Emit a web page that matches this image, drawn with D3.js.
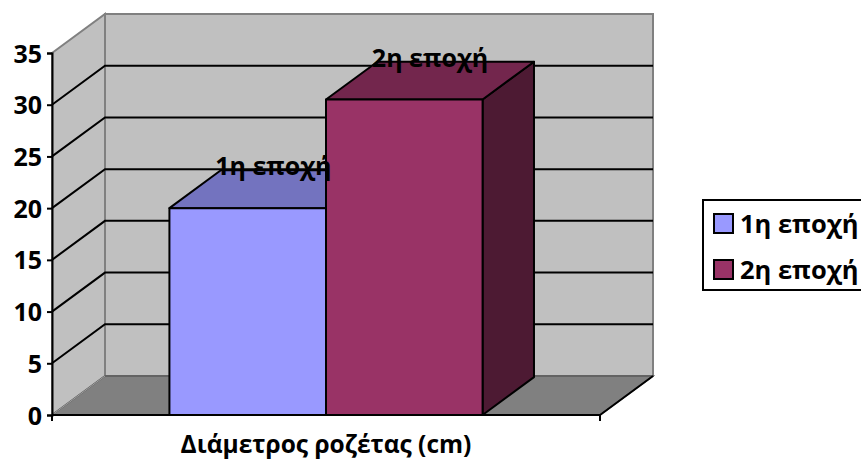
<!DOCTYPE html>
<html>
<head>
<meta charset="utf-8">
<script src="https://cdn.jsdelivr.net/npm/d3@7"></script>
<style>
  html, body { margin: 0; padding: 0; background: #ffffff; }
  svg { display: block; }
  text { font-family: "Open Sans", "Noto Sans", sans-serif; font-weight: 700; fill: #000; }
</style>
</head>
<body>
<svg id="chart" width="861" height="464"></svg>
<script>
// Rosette diameter by season
const categories = ["Διάμετρος ροζέτας (cm)"];
const seriesNames = ["1η εποχή", "2η εποχή"];
const seriesValues = [20, 30.5];
const yTicks = [0, 5, 10, 15, 20, 25, 30, 35];

const frontColors = ["#9999ff", "#993366"];
const topColors   = ["#7373bf", "#73264d"];
const sideColors  = ["#4d4d80", "#4d1a33"];

const svg = d3.select("#chart");

// Plot frame (front plane) and oblique depth offset
const plotLeft = 52, plotRight = 600, plotBottom = 415, plotTop = 53;
const depth = { dx: 53, dy: -39 };
const barDepth = 0.97;

const y = d3.scaleLinear().domain([0, 35]).range([plotBottom, plotTop]);
const xCat = d3.scaleBand().domain(categories).range([plotLeft, plotRight]);
const xSeries = d3.scaleBand().domain(seriesNames)
  .range([xCat(categories[0]), xCat(categories[0]) + xCat.bandwidth()])
  .paddingInner(0).paddingOuter(0.75);

const pts = a => a.map(p => p.join(",")).join(" ");
const back = (x, yy, f = 1) => [x + depth.dx * f, yy + depth.dy * f];

// Walls
const gWalls = svg.append("g");
// back wall
gWalls.append("polygon")
  .attr("points", pts([back(plotLeft, y(35)), back(plotRight, y(35)), back(plotRight, y(0)), back(plotLeft, y(0))]))
  .attr("fill", "#c0c0c0").attr("stroke", "#808080").attr("stroke-width", 2);
// side wall
gWalls.append("polygon")
  .attr("points", pts([[plotLeft, y(35)], back(plotLeft, y(35)), back(plotLeft, y(0)), [plotLeft, y(0)]]))
  .attr("fill", "#c0c0c0").attr("stroke", "#808080").attr("stroke-width", 2);
// floor
gWalls.append("polygon")
  .attr("points", pts([[plotLeft, y(0)], back(plotLeft, y(0)), back(plotRight, y(0)), [plotRight, y(0)]]))
  .attr("fill", "#808080").attr("stroke", "#5a5a5a").attr("stroke-width", 1.5);
gWalls.append("line")
  .attr("x1", plotLeft).attr("y1", y(0)).attr("x2", back(plotLeft, y(0))[0]).attr("y2", back(plotLeft, y(0))[1])
  .attr("stroke", "#a0a0a0").attr("stroke-width", 1);

// Gridlines on side and back walls
const gridVals = yTicks.filter(v => v > 0 && v < 35);
const gGrid = svg.append("g").attr("stroke", "#000").attr("stroke-width", 2).attr("fill", "none");
gridVals.forEach(v => {
  const b = back(plotLeft, y(v));
  gGrid.append("polyline")
    .attr("points", pts([[plotLeft, y(v)], b, back(plotRight, y(v))]));
});

// Floor right edge
svg.append("line")
  .attr("x1", plotRight).attr("y1", y(0))
  .attr("x2", back(plotRight, y(0))[0]).attr("y2", back(plotRight, y(0))[1])
  .attr("stroke", "#000").attr("stroke-width", 2);

// Axes
const yAxis = d3.axisLeft(y).tickValues(yTicks).tickSize(5).tickPadding(6).tickFormat(d3.format("d"));
const gy = svg.append("g").attr("transform", `translate(${plotLeft},0)`).call(yAxis);
gy.attr("font-family", null).attr("font-size", null);
gy.select(".domain").attr("stroke", "#000").attr("stroke-width", 2);
gy.selectAll(".tick line").attr("stroke", "#000").attr("stroke-width", 2);
gy.selectAll(".tick text").attr("font-size", 25).attr("x", -10).attr("dy", "0.36em");

const xAxisLine = svg.append("g");
xAxisLine.append("line")
  .attr("x1", plotLeft).attr("x2", plotRight).attr("y1", y(0)).attr("y2", y(0))
  .attr("stroke", "#000").attr("stroke-width", 2);
[plotLeft, plotRight].forEach(x => xAxisLine.append("line")
  .attr("x1", x).attr("x2", x).attr("y1", y(0)).attr("y2", y(0) + 6)
  .attr("stroke", "#000").attr("stroke-width", 2));

// Bars (oblique 3D columns)
const gBars = svg.append("g").attr("stroke", "#000").attr("stroke-width", 2).attr("stroke-linejoin", "round");
seriesNames.forEach((s, i) => {
  const x0 = xSeries(s), x1 = x0 + xSeries.bandwidth();
  const yt = y(seriesValues[i]), yb = y(0);
  // side face
  gBars.append("polygon")
    .attr("points", pts([[x1, yt], back(x1, yt, barDepth), back(x1, yb, barDepth), [x1, yb]]))
    .attr("fill", sideColors[i]);
  // top face
  gBars.append("polygon")
    .attr("points", pts([[x0, yt], back(x0, yt, barDepth), back(x1, yt, barDepth), [x1, yt]]))
    .attr("fill", topColors[i]);
  // front face
  gBars.append("rect")
    .attr("x", x0).attr("y", yt).attr("width", x1 - x0).attr("height", yb - yt)
    .attr("fill", frontColors[i]);
});

// Data labels (series name) above each column
seriesNames.forEach((s, i) => {
  const cx = xSeries(s) + xSeries.bandwidth() / 2 + depth.dx * barDepth / 2;
  const cy = y(seriesValues[i]) + depth.dy * barDepth / 2;
  svg.append("text")
    .attr("x", cx).attr("y", cy - 14)
    .attr("text-anchor", "middle")
    .attr("font-size", 25)
    .text(s);
});

// Category axis title
svg.append("text")
  .attr("x", xCat(categories[0]) + xCat.bandwidth() / 2)
  .attr("y", 453)
  .attr("text-anchor", "middle")
  .attr("font-size", 24.5)
  .text(categories[0]);

// Legend
const lg = svg.append("g").attr("transform", "translate(703,200)");
lg.append("rect").attr("x", 0).attr("y", 0).attr("width", 170).attr("height", 90)
  .attr("fill", "#fff").attr("stroke", "#000").attr("stroke-width", 2);
seriesNames.forEach((s, i) => {
  const row = lg.append("g").attr("transform", `translate(11,${14 + i * 46})`);
  row.append("rect").attr("width", 19).attr("height", 19)
    .attr("fill", frontColors[i]).attr("stroke", "#000").attr("stroke-width", 2);
  row.append("text").attr("x", 26).attr("y", 10).attr("dy", "0.35em")
    .attr("font-size", 25.5).text(s);
});
</script>
</body>
</html>
